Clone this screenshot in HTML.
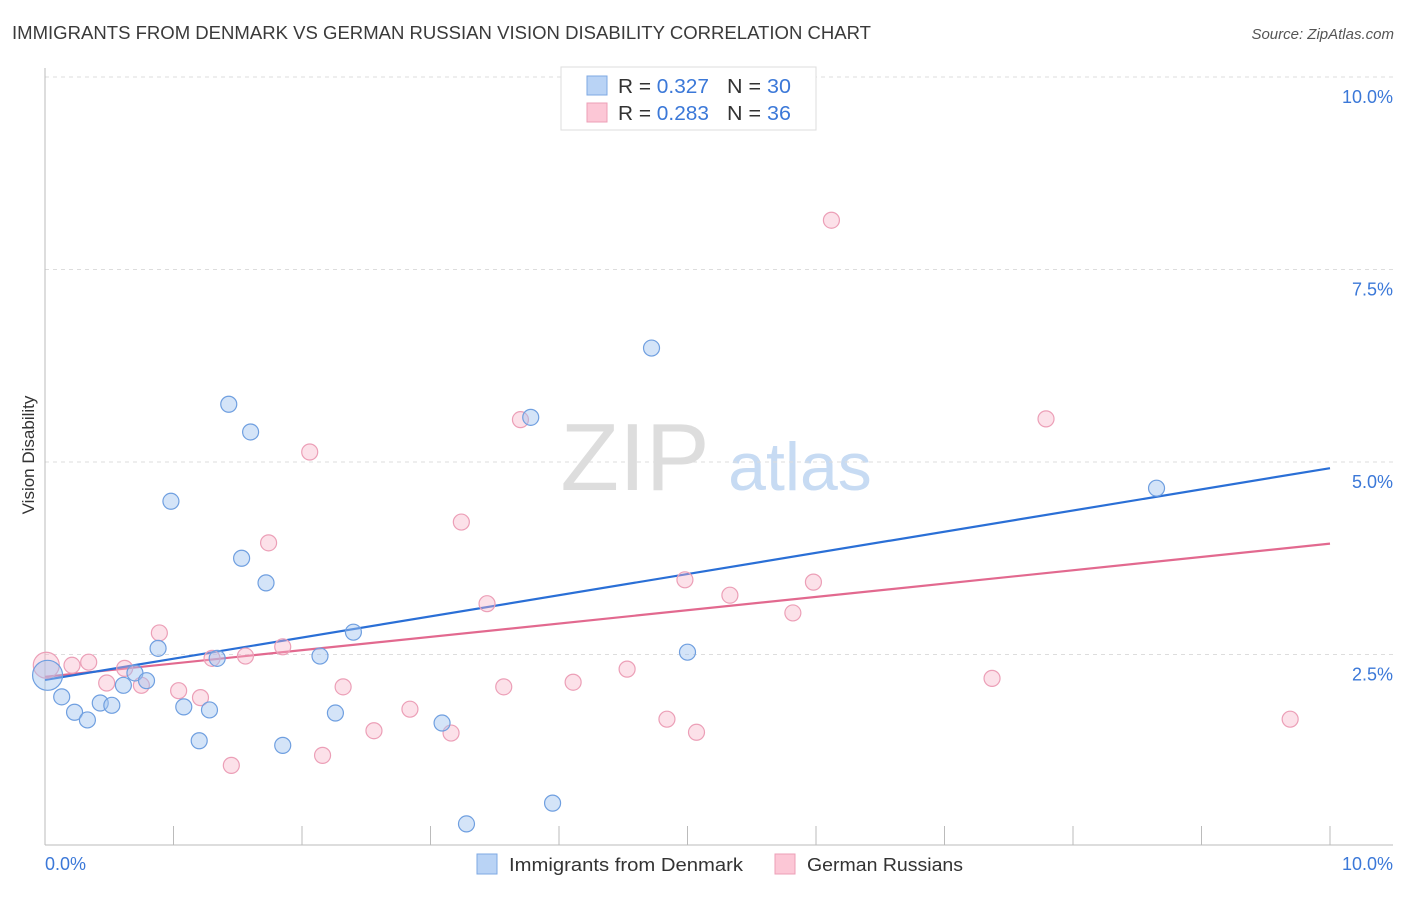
<!DOCTYPE html>
<html><head><meta charset="utf-8"><style>
body{margin:0;background:#fff;font-family:"Liberation Sans",sans-serif;}
svg text{font-family:"Liberation Sans",sans-serif;}
</style></head><body>
<svg id="chart" width="1406" height="892" xmlns="http://www.w3.org/2000/svg">
<text x="12" y="39" font-size="18" fill="#3a3a3a" textLength="859" lengthAdjust="spacingAndGlyphs">IMMIGRANTS FROM DENMARK VS GERMAN RUSSIAN VISION DISABILITY CORRELATION CHART</text>
<text x="1394" y="39" font-size="15" fill="#555" text-anchor="end" font-style="italic">Source: ZipAtlas.com</text>
<g>
<text x="635" y="490" font-size="96" fill="#ddd" text-anchor="middle" font-family="Liberation Serif">ZIP</text>
<text x="800" y="490" font-size="68" fill="#c7dbf3" text-anchor="middle">atlas</text>
</g>
<g id="grid"></g>
<g id="axes"></g>
<g id="lines"></g>
<g id="points"></g>
<text transform="translate(34,455) rotate(-90)" font-size="17" fill="#333" text-anchor="middle">Vision Disability</text>
<g>
<rect x="561" y="67" width="255" height="63" fill="#fff" stroke="#ddd"/>
<rect x="587" y="76" width="20" height="19" fill="#b9d3f5" stroke="#7ea8e3"/>
<rect x="587" y="103" width="20" height="19" fill="#fcc7d6" stroke="#ec9fb7"/>
<text x="618" y="93" font-size="20" fill="#333" textLength="91" lengthAdjust="spacingAndGlyphs">R = <tspan fill="#3b78d8">0.327</tspan></text>
<text x="727" y="93" font-size="20" fill="#333" textLength="64" lengthAdjust="spacingAndGlyphs">N = <tspan fill="#3b78d8">30</tspan></text>
<text x="618" y="120" font-size="20" fill="#333" textLength="91" lengthAdjust="spacingAndGlyphs">R = <tspan fill="#3b78d8">0.283</tspan></text>
<text x="727" y="120" font-size="20" fill="#333" textLength="64" lengthAdjust="spacingAndGlyphs">N = <tspan fill="#3b78d8"> 36</tspan></text>
</g>
<g>
<rect x="477" y="854" width="20" height="20" fill="#b9d3f5" stroke="#7ea8e3"/>
<text x="509" y="871" font-size="18" fill="#333" textLength="234" lengthAdjust="spacingAndGlyphs">Immigrants from Denmark</text>
<rect x="775" y="854" width="20" height="20" fill="#fcc7d6" stroke="#ec9fb7"/>
<text x="807" y="871" font-size="18" fill="#333" textLength="156" lengthAdjust="spacingAndGlyphs">German Russians</text>
</g>
</svg>
<script>
const blueX=[0.02,0.13,0.23,0.33,0.43,0.52,0.61,0.70,0.79,0.88,0.98,1.08,1.20,1.28,1.34,1.43,1.60,1.53,1.72,1.85,2.14,2.26,2.40,3.09,3.28,3.78,3.95,4.72,5.00,8.65];
const blueY=[2.23,1.95,1.75,1.65,1.87,1.84,2.10,2.26,2.16,2.58,4.49,1.82,1.38,1.78,2.45,5.75,5.39,3.75,3.43,1.32,2.48,1.74,2.79,1.61,0.30,5.58,0.57,6.48,2.53,4.66];
const pinkX=[0.01,0.21,0.34,0.48,0.62,0.75,0.89,1.04,1.21,1.30,1.45,1.56,1.74,1.85,2.06,2.16,2.32,2.56,2.84,3.16,3.24,3.44,3.57,3.70,4.11,4.53,4.84,4.98,5.07,5.33,5.82,5.98,6.12,7.37,7.79,9.69];
const pinkY=[2.36,2.36,2.40,2.13,2.32,2.10,2.78,2.03,1.94,2.45,1.06,2.48,3.95,2.60,5.13,1.19,2.08,1.51,1.79,1.48,4.22,3.16,2.08,5.55,2.14,2.31,1.66,3.47,1.49,3.27,3.04,3.44,8.14,2.19,5.56,1.66];
const blueTrend=[2.17,4.92];
const pinkTrend=[2.21,3.94];
const yTicks=[2.5,5.0,7.5,10.0];
const yTickLabels=["2.5%","5.0%","7.5%","10.0%"];
const xTickCount=10;
const NS="http://www.w3.org/2000/svg";
const sx=v=>45+v*128.5, sy=v=>847-v*77;
function mk(parent,tag,attrs){const e=document.createElementNS(NS,tag);for(const k in attrs)e.setAttribute(k,attrs[k]);document.getElementById(parent).appendChild(e);return e;}
yTicks.forEach((t,i)=>{
  const g=mk('grid','line',{x1:45,x2:1393,y1:sy(t),y2:sy(t),stroke:'#ddd','stroke-dasharray':'4,4'});
  
  
  const l=mk('grid','text',{x:1393,y:sy(t)+26,'font-size':18,fill:'#3b78d8','text-anchor':'end'});
  l.textContent=yTickLabels[i];
  
  
});
let a=mk('axes','line',{x1:45,x2:45,y1:68,y2:845,stroke:'#bbb'});


a=mk('axes','line',{x1:45,x2:1393,y1:845,y2:845,stroke:'#bbb'});


for(let i=1;i<=xTickCount;i++){
  const t=mk('axes','line',{x1:sx(i),x2:sx(i),y1:826,y2:845,stroke:'#bbb'});
  
  
}
let xl=mk('axes','text',{x:45,y:870,'font-size':18,fill:'#3b78d8'});xl.textContent='0.0%';


xl=mk('axes','text',{x:1393,y:870,'font-size':18,fill:'#3b78d8','text-anchor':'end'});xl.textContent='10.0%';


function pts(X,Y,fill,stroke,name,bigR){
  X.forEach((x,i)=>{
    const c=mk('points','circle',{cx:sx(x),cy:sy(Y[i]),r:i===0?bigR:8,fill:fill,stroke:stroke,'stroke-width':1.2});
    
    
  });
}
pts(pinkX,pinkY,'rgba(248,180,200,0.4)','#ec9fb7','pink-point',13);
pts(blueX,blueY,'rgba(160,196,240,0.45)','#6f9fe0','blue-point',15);
let tl=mk('lines','line',{x1:sx(0),x2:sx(10),y1:sy(pinkTrend[0]),y2:sy(pinkTrend[1]),stroke:'#e2698f','stroke-width':2.2});


tl=mk('lines','line',{x1:sx(0),x2:sx(10),y1:sy(blueTrend[0]),y2:sy(blueTrend[1]),stroke:'#2a6fd6','stroke-width':2.2});


</script>
</body></html>
